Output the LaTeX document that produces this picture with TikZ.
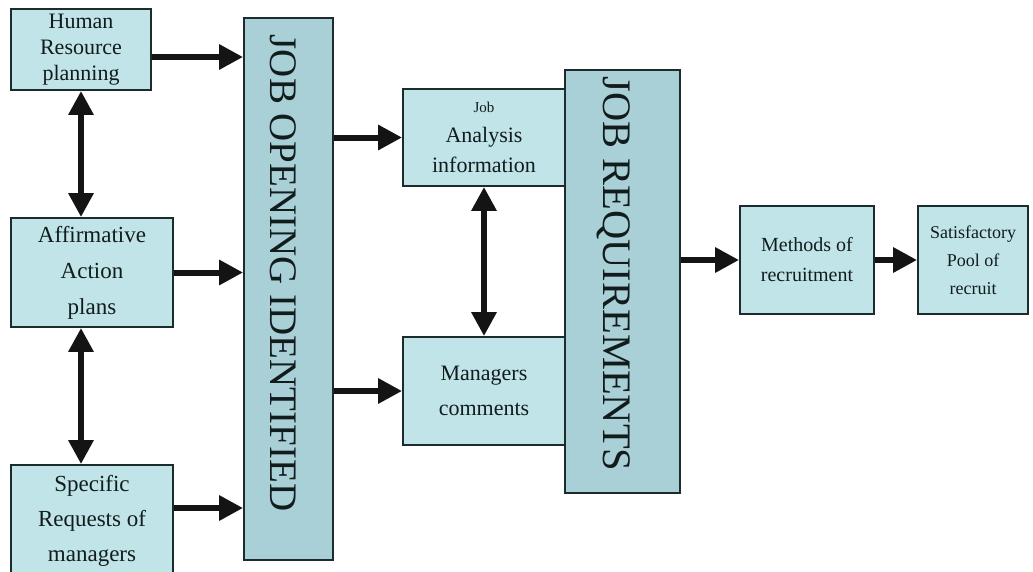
\documentclass[tikz,border=0pt]{standalone}
\usepackage{fontspec}
\setmainfont{Liberation Serif}
\usetikzlibrary{arrows.meta,calc}
\definecolor{boxfill}{HTML}{C0E4E8}
\definecolor{barfill}{HTML}{A8D0D6}
\definecolor{edge}{HTML}{1C2B2C}
\definecolor{ink}{HTML}{121C1C}
\tikzset{
  box/.style={draw=edge, line width=1.8pt, fill=boxfill, text=ink, align=center, inner sep=0pt},
  bar/.style={draw=edge, line width=1.8pt, fill=barfill, inner sep=0pt},
  bartext/.style={rotate=-90, text=ink, inner sep=0pt},
  arr/.style={line width=6pt, draw=black!92, -{Triangle[length=24pt,width=24pt]}},
  darr/.style={line width=6pt, draw=black!92, {Triangle[length=24pt,width=24pt]}-{Triangle[length=24pt,width=24pt]}}
}
\begin{document}
\begin{tikzpicture}[x=1pt,y=-1pt]
\useasboundingbox (0,0) rectangle (1033,571);
\clip (0,0) rectangle (1033,571);
\fill[white] (0,0) rectangle (1033,571);

% left column
\node[box, minimum width=140pt, minimum height=81pt, font=\fontsize{22}{26}\selectfont]
  (hr) at (81,49.5) {Human\\Resource\\planning};
\node[box, minimum width=162pt, minimum height=109pt, font=\fontsize{23}{36}\selectfont]
  (aff) at (92,272.5) {Affirmative\\Action\\plans};
\node[box, minimum width=162pt, minimum height=112pt, font=\fontsize{23}{35}\selectfont]
  (spec) at (92,521) {Specific\\Requests of\\managers};

% job opening bar
\node[bar, minimum width=89pt, minimum height=542pt] (joi) at (288.5,289) {};
\node[bartext, font=\fontsize{39}{41}\selectfont] (joit) at (283,273) {JOB OPENING IDENTIFIED};

% middle boxes
\node[box, minimum width=162pt, minimum height=97pt, font=\fontsize{22}{30}\selectfont]
  (ja) at (484,137.5) {{\fontsize{15}{18}\selectfont Job}\\Analysis\\information};
\node[box, minimum width=162pt, minimum height=108pt, font=\fontsize{22}{35}\selectfont]
  (mc) at (484,391) {Managers\\comments};

% job requirements bar
\node[bar, minimum width=115pt, minimum height=423pt] (jr) at (622.5,281.5) {};
\node[bartext, font=\fontsize{40.5}{42}\selectfont] (jrt) at (614,274) {JOB REQUIREMENTS};

% right boxes
\node[box, minimum width=134pt, minimum height=108pt, font=\fontsize{20}{30}\selectfont]
  (meth) at (807,260) {Methods of\\recruitment};
\node[box, minimum width=110pt, minimum height=108pt, font=\fontsize{18}{28}\selectfont]
  (sat) at (973,260) {Satisfactory\\Pool of\\recruit};

% arrows into job opening bar
\draw[arr] ([yshift=-7.5pt]hr.east) -- ([yshift=-7.5pt]hr.east -| joi.west);
\draw[arr] (aff.east) -- (aff.east -| joi.west);
\draw[arr] ([yshift=13pt]spec.east) -- ([yshift=13pt]spec.east -| joi.west);

% vertical double arrows, left
\draw[darr] (hr.south) -- (hr.south |- aff.north);
\draw[darr] (hr.south |- aff.south) -- (hr.south |- spec.north);

% arrows from job opening bar
\draw[arr] (joi.east |- ja.west) -- (ja.west);
\draw[arr] (joi.east |- mc.west) -- (mc.west);
\draw[darr] (ja.south) -- (mc.north);

% arrows to the right
\draw[arr] (jr.east |- meth.west) -- (meth.west);
\draw[arr] (meth.east) -- (sat.west);
\end{tikzpicture}
\end{document}
